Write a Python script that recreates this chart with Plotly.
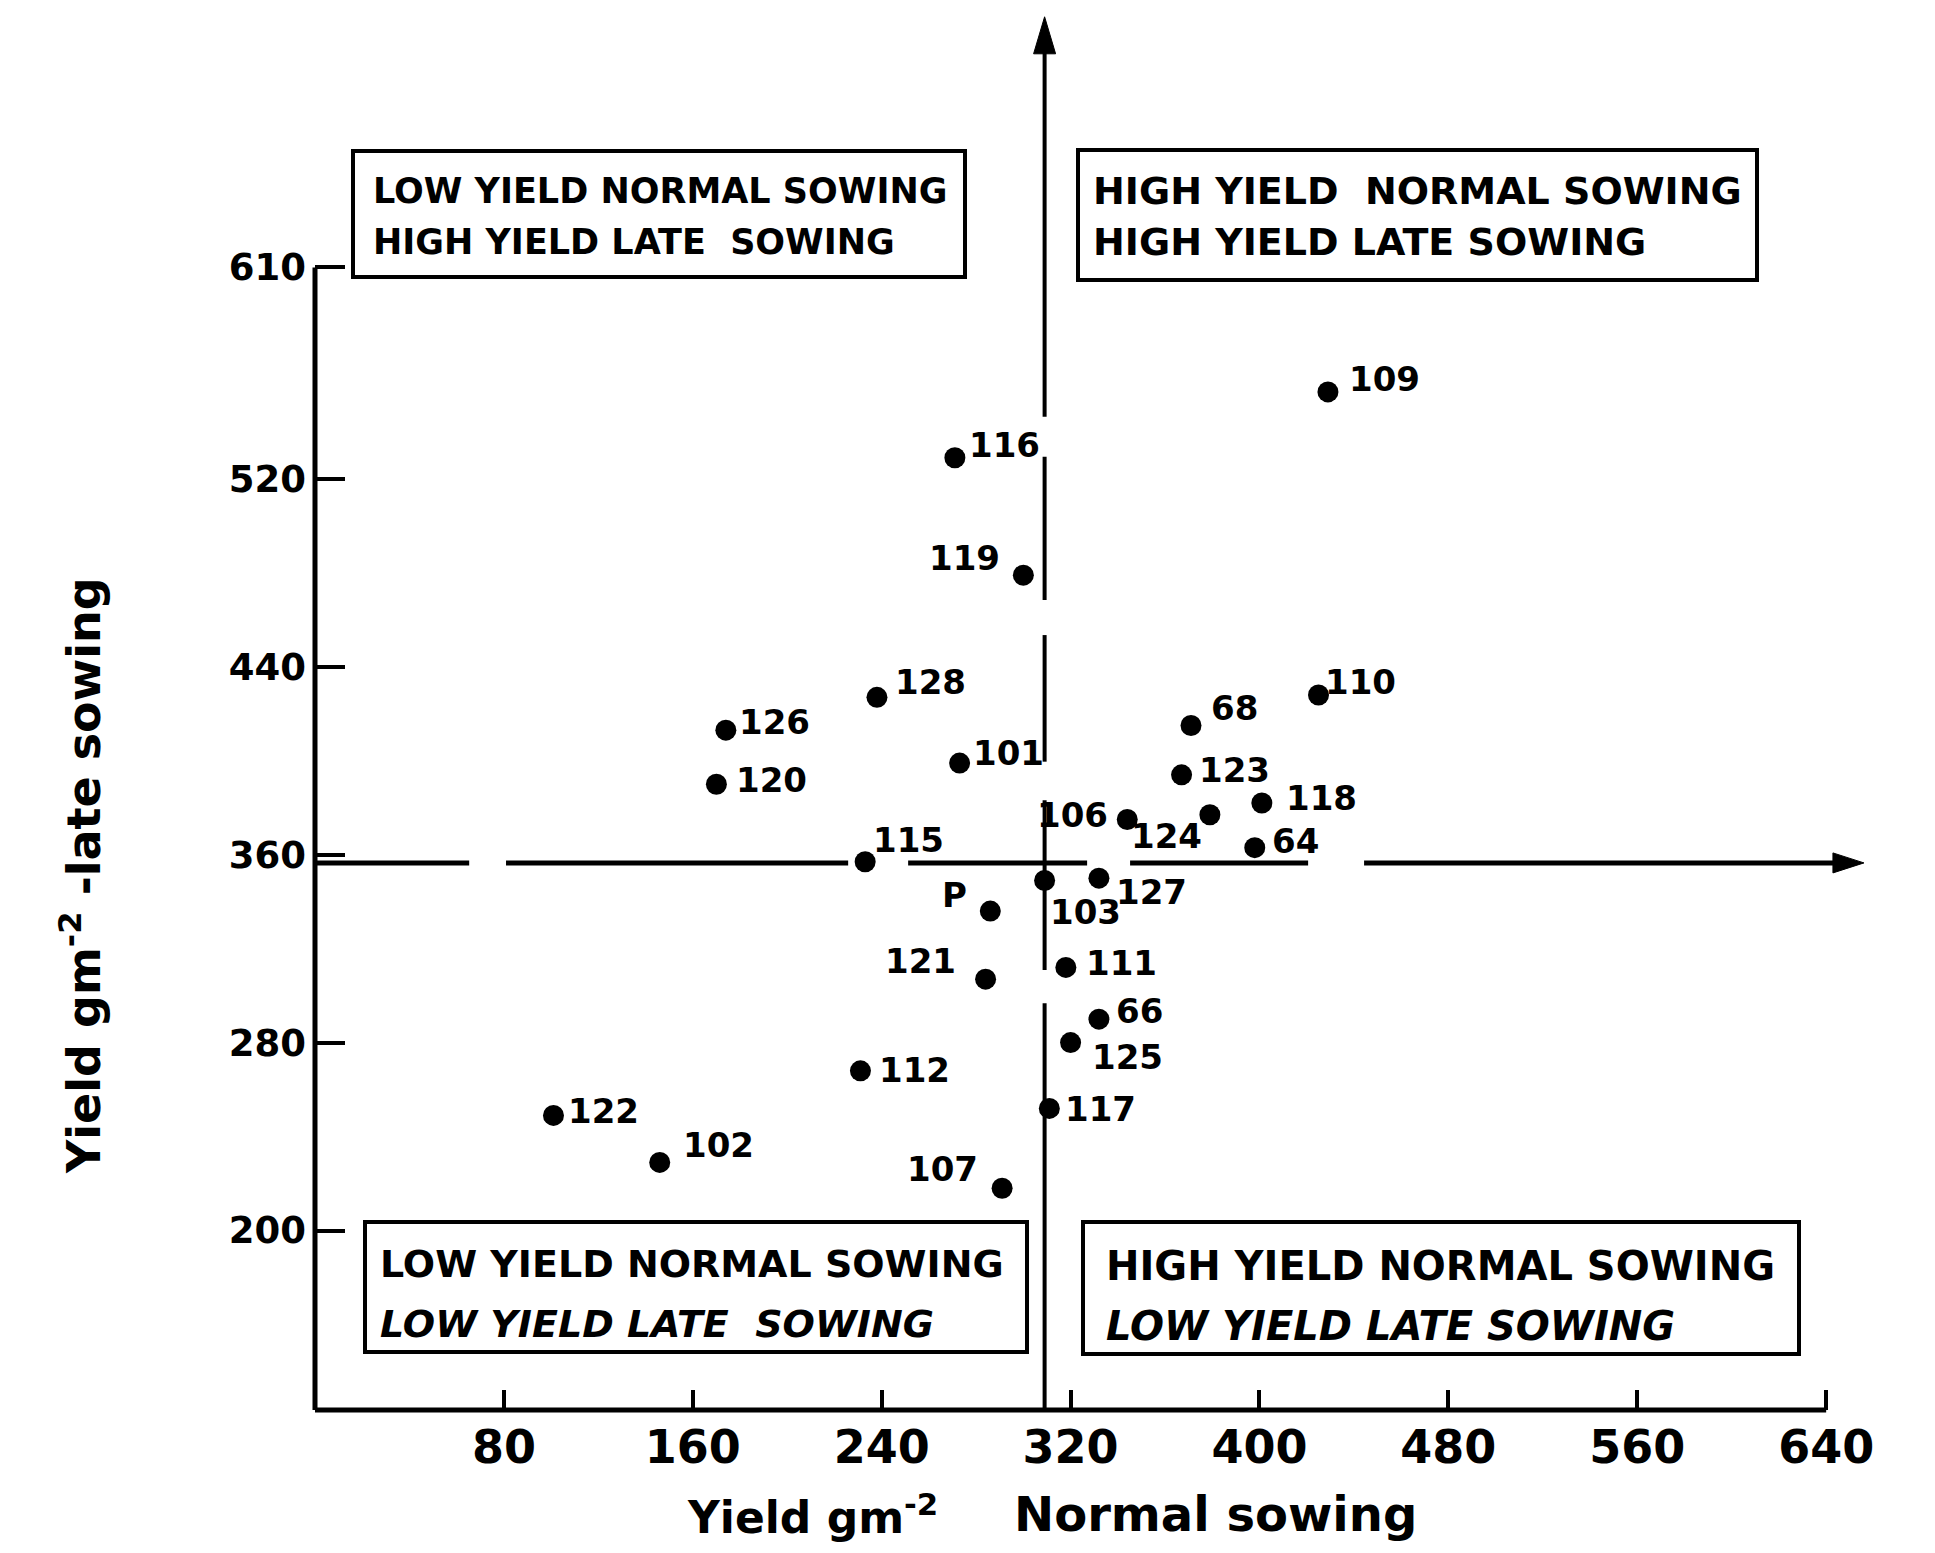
import plotly.graph_objects as go

# ---------------- data ----------------
GENOTYPES = ["109", "116", "119", "128", "126", "120", "101", "115", "106", "124",
             "68", "110", "123", "118", "64", "103", "127", "111", "P", "121",
             "66", "125", "112", "117", "107", "122", "102"]
NORMAL_SOWING = [429, 271, 300, 238, 174, 170, 273, 233, 344, 379,
                 371, 425, 367, 401, 398, 309, 332, 318, 286, 284,
                 332, 320, 231, 311, 291, 101, 146]
LATE_SOWING = [557, 529, 479, 427, 413, 390, 399, 357, 375, 377,
               415, 428, 394, 382, 363, 349, 350, 312, 336, 307,
               290, 280, 268, 252, 218, 249, 229]
MEAN_NORMAL = 309      # vertical reference line (mean yield, normal sowing)
MEAN_LATE = 356.5      # horizontal reference line (mean yield, late sowing)

X_TICKS = [80, 160, 240, 320, 400, 480, 560, 640]
Y_TICKS = [200, 280, 360, 440, 520, 610]

X_TITLE = ["Yield gm<sup>-2</sup>", "Normal sowing"]
Y_TITLE = "Yield gm<sup>-2</sup> -late sowing"

QUADRANT_TEXT = {
    "tl": ["LOW YIELD NORMAL SOWING", "HIGH YIELD LATE  SOWING"],
    "tr": ["HIGH YIELD  NORMAL SOWING", "HIGH YIELD LATE SOWING"],
    "bl": ["LOW YIELD NORMAL SOWING", "LOW YIELD LATE  SOWING"],
    "br": ["HIGH YIELD NORMAL SOWING", "LOW YIELD LATE SOWING"],
}

# ---------------- layout geometry / style ----------------
W, H = 1935, 1553
M_L, M_R, M_T, M_B = 315, 38, 10, 143
PW, PH = W - M_L - M_R, H - M_T - M_B
X_RANGE = [0, 670]
Y_RANGE = [123.6, 719.6]
FONT = "DejaVu Sans"
LW = 5

def xpap(v):
    return (v - X_RANGE[0]) / (X_RANGE[1] - X_RANGE[0])

def ypap(v):
    return (v - Y_RANGE[0]) / (Y_RANGE[1] - Y_RANGE[0])

def pxx(px):
    return (px - M_L) / PW

def pxy(py):
    return (M_T + PH - py) / PH

# label placement: side of the dot, horizontal edge offset (px), vertical centre offset (px, +down)
LABEL_STYLE = {
    "109": ("L", 19, -13), "116": ("L", 12, -13), "119": ("R", -21, -17),
    "128": ("L", 16, -15), "126": ("L", 11, -8), "120": ("L", 18, -4),
    "101": ("L", 11, -10), "115": ("L", 6, -22), "106": ("R", -17, -4),
    "124": ("R", -6, 21), "68": ("L", 18, -18), "110": ("L", 4, -13),
    "123": ("L", 15, -5), "118": ("L", 22, -5), "64": ("L", 15, -7),
    "103": ("L", 3, 31), "127": ("L", 15, 14), "111": ("L", 18, -4),
    "P": ("R", -21, -16), "121": ("R", -28, -18), "66": ("L", 15, -8),
    "125": ("L", 19, 14), "112": ("L", 17, -1), "117": ("L", 14, 1),
    "107": ("R", -22, -19), "122": ("L", 13, -4), "102": ("L", 21, -17),
}

# boxes: (x0, y0, x1, y1) in page px, text left px, line centres px, font size, italic 2nd line
BOX_STYLE = {
    "tl": ((353, 151, 965, 277), 371, (191, 242), 35, False),
    "tr": ((1078, 150, 1757, 280), 1091, (191, 242), 38, False),
    "bl": ((365, 1222, 1027, 1352), 378, (1264, 1324), 38, True),
    "br": ((1083, 1222, 1799, 1354), 1104, (1266, 1326), 40, True),
}

# gaps in the hand-drawn mean lines (axis units)
V_GAPS = [(529.4, 546.4), (453.5, 468.4), (383.2, 399.6), (296.8, 310.9)]
H_GAPS = [(65.3, 80.9), (225.8, 251.2), (327.0, 345.2), (420.6, 444.3)]
V_ARROW_TIP = 716.7
H_ARROW_TIP = 656.0


def split(a, b, gaps):
    segs, cur = [], a
    for g0, g1 in sorted(gaps):
        if g0 > cur:
            segs.append((cur, g0))
        cur = max(cur, g1)
    if cur < b:
        segs.append((cur, b))
    return segs


fig = go.Figure()
fig.add_trace(go.Scatter(
    x=NORMAL_SOWING, y=LATE_SOWING, mode="markers",
    marker=dict(size=21, color="black"), cliponaxis=False,
    hoverinfo="text", text=GENOTYPES, showlegend=False))

shapes = []
line = dict(color="black", width=LW)
# axis lines
shapes.append(dict(type="line", xref="paper", yref="paper",
                   x0=xpap(0), x1=xpap(X_TICKS[-1]), y0=0, y1=0, line=line))
shapes.append(dict(type="line", xref="paper", yref="paper",
                   x0=xpap(0), x1=xpap(0), y0=0, y1=ypap(Y_TICKS[-1]), line=line))

# vertical mean line with arrow
v_head_len = 37 / PH
v_base = ypap(V_ARROW_TIP) - v_head_len
for s0, s1 in split(Y_RANGE[0], Y_RANGE[1], V_GAPS):
    y0p = ypap(s0)
    y1p = min(ypap(s1), v_base + 0.002)
    if y1p > y0p:
        shapes.append(dict(type="line", xref="paper", yref="paper",
                           x0=xpap(MEAN_NORMAL), x1=xpap(MEAN_NORMAL),
                           y0=y0p, y1=y1p, line=dict(color="black", width=4)))
vx = xpap(MEAN_NORMAL)
hw = 11 / PW
shapes.append(dict(type="path", xref="paper", yref="paper",
                   path=f"M {vx-hw},{v_base} L {vx},{ypap(V_ARROW_TIP)} L {vx+hw},{v_base} Z",
                   fillcolor="black", line=dict(color="black", width=1)))

# horizontal mean line with arrow
h_head_len = 31 / PW
h_base = xpap(H_ARROW_TIP) - h_head_len
for s0, s1 in split(X_RANGE[0], X_RANGE[1], H_GAPS):
    x0p = xpap(s0)
    x1p = min(xpap(s1), h_base + 0.002)
    if x1p > x0p:
        shapes.append(dict(type="line", xref="paper", yref="paper",
                           x0=x0p, x1=x1p, y0=ypap(MEAN_LATE), y1=ypap(MEAN_LATE),
                           line=dict(color="black", width=5)))
hy = ypap(MEAN_LATE)
hh = 10 / PH
shapes.append(dict(type="path", xref="paper", yref="paper",
                   path=f"M {h_base},{hy-hh} L {xpap(H_ARROW_TIP)},{hy} L {h_base},{hy+hh} Z",
                   fillcolor="black", line=dict(color="black", width=1)))

annotations = []
# quadrant boxes
for key, lines in QUADRANT_TEXT.items():
    (bx0, by0, bx1, by1), tx, ys, fs, ital = BOX_STYLE[key]
    shapes.append(dict(type="rect", xref="paper", yref="paper",
                       x0=pxx(bx0), x1=pxx(bx1), y0=pxy(by1), y1=pxy(by0),
                       line=dict(color="black", width=4), fillcolor="rgba(0,0,0,0)"))
    for i, (txt, yc) in enumerate(zip(lines, ys)):
        annotations.append(dict(
            text=txt, xref="paper", yref="paper", x=pxx(tx), y=pxy(yc),
            xanchor="left", yanchor="middle", showarrow=False,
            font=dict(family=FONT, size=fs, color="black", weight="bold",
                      style="italic" if (ital and i == 1) else "normal")))

# point labels
for name, xv, yv in zip(GENOTYPES, NORMAL_SOWING, LATE_SOWING):
    side, dx, dy = LABEL_STYLE[name]
    annotations.append(dict(
        text=name, x=xv, y=yv, xref="x", yref="y", showarrow=False,
        xanchor="left" if side == "L" else "right", yanchor="middle",
        xshift=dx, yshift=-dy,
        font=dict(family=FONT, size=34, color="black", weight="bold")))

# axis titles
annotations.append(dict(
    text=X_TITLE[0], xref="paper", yref="paper", x=pxx(940), y=pxy(1514),
    xanchor="right", yanchor="middle", showarrow=False,
    font=dict(family=FONT, size=44, color="black", weight="bold")))
annotations.append(dict(
    text=X_TITLE[1], xref="paper", yref="paper", x=pxx(1012), y=pxy(1514),
    xanchor="left", yanchor="middle", showarrow=False,
    font=dict(family=FONT, size=48, color="black", weight="bold")))
annotations.append(dict(
    text=Y_TITLE, xref="paper", yref="paper", x=pxx(81), y=pxy(876), textangle=-90,
    xanchor="center", yanchor="middle", showarrow=False,
    font=dict(family=FONT, size=46, color="black", weight="bold")))

fig.update_layout(
    width=W, height=H, autosize=False,
    margin=dict(l=M_L, r=M_R, t=M_T, b=M_B, pad=0),
    paper_bgcolor="white", plot_bgcolor="white",
    showlegend=False, shapes=shapes, annotations=annotations,
    xaxis=dict(range=X_RANGE, tickvals=X_TICKS, ticktext=[str(v) for v in X_TICKS],
               ticks="inside", ticklen=20, tickwidth=4, tickcolor="black",
               showline=False, showgrid=False, zeroline=False,
               ticklabelstandoff=6,
               tickfont=dict(family=FONT, size=46, color="black", weight="bold")),
    yaxis=dict(range=Y_RANGE, tickvals=Y_TICKS, ticktext=[str(v) for v in Y_TICKS],
               ticks="inside", ticklen=30, tickwidth=4, tickcolor="black",
               showline=False, showgrid=False, zeroline=False,
               ticklabelstandoff=8,
               tickfont=dict(family=FONT, size=37, color="black", weight="bold")),
)

fig.write_html("out.html", post_script="document.body.style.margin='0';",
               config={"displayModeBar": False})
